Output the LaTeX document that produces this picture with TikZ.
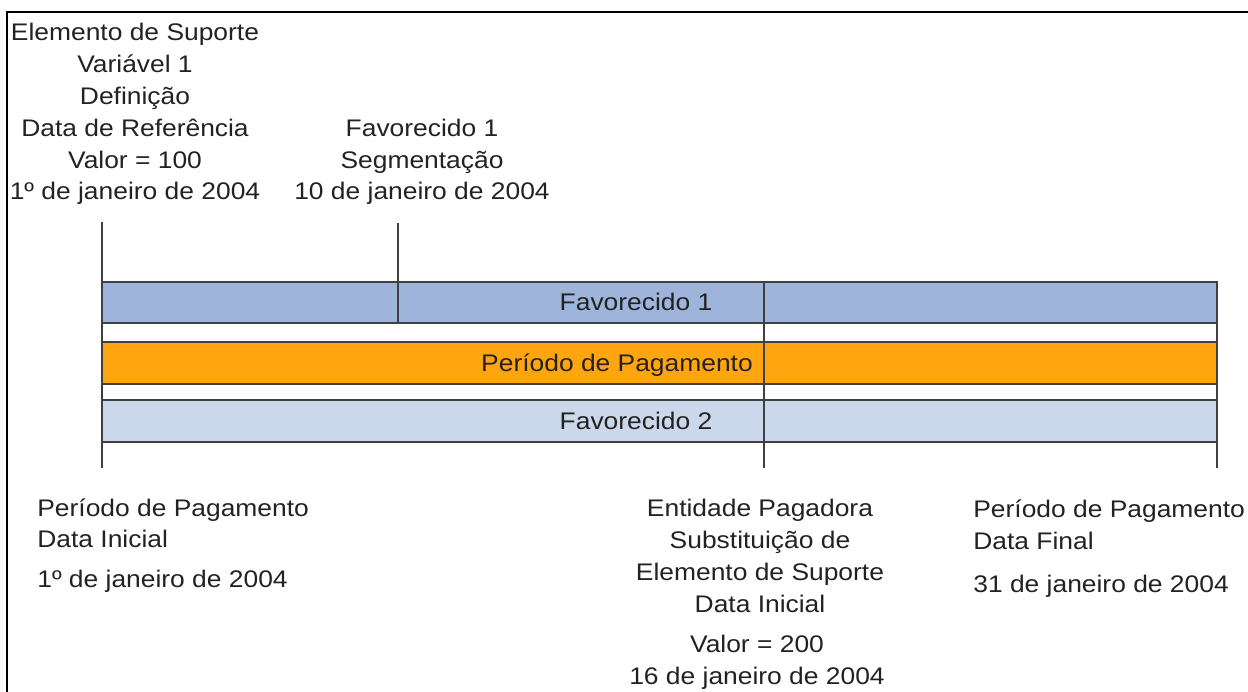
\documentclass[tikz,border=0pt]{standalone}
\usepackage{fontspec}
\setmainfont{Liberation Sans}[FakeStretch=1.1]
\usetikzlibrary{positioning}
\definecolor{barblue}{RGB}{159,180,218}
\definecolor{barorange}{RGB}{255,165,16}
\definecolor{barlight}{RGB}{203,216,235}
\definecolor{barline}{RGB}{64,64,64}
\definecolor{labeltext}{RGB}{34,34,34}
\tikzset{
  bar/.style={draw=barline, line width=1.1pt},
  tick/.style={draw=barline, line width=1.1pt},
  datelabel/.style={anchor=base, inner sep=0pt, align=center, text=labeltext},
  datelabelleft/.style={anchor=base west, inner sep=0pt, align=left, text=labeltext},
  bartext/.style={anchor=base, inner sep=0pt, text=labeltext}
}
\begin{document}
\begin{tikzpicture}[x=0.02cm, y=-0.02cm, font=\fontsize{13.66pt}{18.2pt}\selectfont]
  \useasboundingbox (0,0) rectangle (1248,692);
  % frame
  \draw[line width=1.7pt] (7,692) -- (7,12) -- (1248,12);

  % bars
  \draw[bar, fill=barblue] (102,282) rectangle (1217,323);
  \draw[bar, fill=barorange] (102,342) rectangle (1217,384);
  \draw[bar, fill=barlight] (102,400) rectangle (1217,442);
  \node[bartext] (fav1) at (636,311) {Favorecido 1};
  \node[bartext] (period) at (617,372) {Período de Pagamento};
  \node[bartext] (fav2) at (636,430) {Favorecido 2};

  % date ticks
  \coordinate (startTop) at (102,222);
  \coordinate (startBot) at (102,468);
  \coordinate (segTop) at (398,223);
  \coordinate (segBot) at (398,323);
  \coordinate (overTop) at (764,282);
  \coordinate (overBot) at (764,468);
  \coordinate (endTop) at (1217,282);
  \coordinate (endBot) at (1217,468);
  \draw[tick] (startTop) -- (startBot);
  \draw[tick] (segTop) -- (segBot);
  \draw[tick] (overTop) -- (overBot);
  \draw[tick] (endTop) -- (endBot);

  % labels above (base = last line)
  \node[datelabel] (refdate) at (135,200) {Elemento de Suporte\\Variável 1\\Definição\\Data de Referência\\Valor = 100\\1º de janeiro de 2004};
  \node[datelabel] (segdate) at (422,200) {Favorecido 1\\Segmentação\\10 de janeiro de 2004};

  % labels below
  \node[datelabelleft] (startdate) at (37,587) {Período de Pagamento\\Data Inicial\\[4pt]1º de janeiro de 2004};
  \node[datelabel] (overdate) at (760,612) {Entidade Pagadora\\Substituição de\\Elemento de Suporte\\Data Inicial};
  \node[datelabel] (overvalue) at (757,684) {Valor = 200\\16 de janeiro de 2004};
  \node[datelabelleft] (enddate) at (973,592) {Período de Pagamento\\Data Final\\[6pt]31 de janeiro de 2004};
\end{tikzpicture}
\end{document}
